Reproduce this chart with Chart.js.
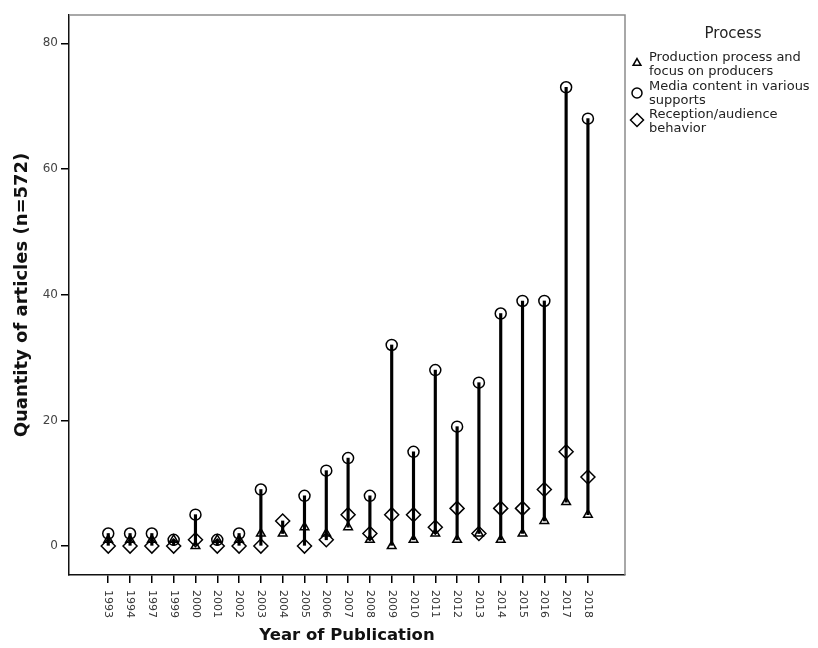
<!DOCTYPE html>
<html>
<head>
<meta charset="utf-8">
<script src="https://cdn.jsdelivr.net/npm/chart.js@4/dist/chart.umd.min.js"></script>
<style>
html,body{margin:0;padding:0;background:#fff;}
#wrap{width:818px;height:648px;}
</style>
</head>
<body>
<div id="wrap"><canvas id="c" width="818" height="648"></canvas></div>
<script>
const years = ['1993','1994','1997','1999','2000','2001','2002','2003','2004','2005','2006','2007','2008','2009','2010','2011','2012','2013','2014','2015','2016','2017','2018'];
const production = [1,1,1,1,0,1,1,2,2,3,2,3,1,0,1,2,1,2,1,2,4,7,5];
const media      = [2,2,2,1,5,1,2,9,null,8,12,14,8,32,15,28,19,26,37,39,39,73,68];
const reception  = [0,0,0,0,1,0,0,0,4,0,1,5,2,5,5,3,6,2,6,6,9,15,11];
const yTicks = [0,20,40,60,80];
const seriesNames = [['Production process and','focus on producers'],['Media content in various','supports'],['Reception/audience','behavior']];
const legendTitle = 'Process';
const xTitle = 'Year of Publication';
const yTitle = 'Quantity of articles (n=572)';

const pts = arr => arr.map((v,i)=> v===null ? null : {x:i, y:v}).filter(p=>p);
const ranges = years.map((y,i)=>{
  const vals=[production[i],media[i],reception[i]].filter(v=>v!==null);
  return {x:i, y:[Math.min(...vals), Math.max(...vals)]};
});

const styles = [
  {pointStyle:'triangle', radius:5, legendRadius:4.5},
  {pointStyle:'circle', radius:5.5, legendRadius:5},
  {pointStyle:'rectRot', radius:7, legendRadius:6.5}
];

const FONT = "'DejaVu Sans', sans-serif";

const framePlugin = {
  id:'frame',
  beforeDatasetsDraw(chart){
    const {ctx, chartArea:a} = chart;
    ctx.save();
    ctx.strokeStyle='#8c8c8c';
    ctx.lineWidth=1.5;
    ctx.beginPath();
    ctx.moveTo(a.left, a.top); ctx.lineTo(a.right, a.top); ctx.lineTo(a.right, a.bottom);
    ctx.stroke();
    ctx.restore();
  },
  afterDraw(chart){
    const {ctx} = chart;
    const xs = chart.scales.x;
    ctx.save();
    ctx.fillStyle='#333';
    ctx.font = "11px " + FONT;
    ctx.textAlign='left';
    ctx.textBaseline='middle';
    years.forEach((lab,i)=>{
      const px = xs.getPixelForValue(i);
      ctx.save();
      ctx.translate(px, xs.top + 15);
      ctx.rotate(Math.PI/2);
      ctx.fillText(lab, 0, 0);
      ctx.restore();
    });
    // legend
    ctx.fillStyle='#222';
    ctx.font = "15px " + FONT;
    ctx.textAlign='center';
    ctx.fillText(legendTitle, 733, 34);
    ctx.font = "13px " + FONT;
    ctx.textAlign='left';
    const rowY = [58, 87, 115];
    const markY = [63, 93, 120];
    seriesNames.forEach((lines, k)=>{
      lines.forEach((t,j)=> ctx.fillText(t, 649, rowY[k] + j*14));
      ctx.strokeStyle='#000';
      ctx.fillStyle='rgba(0,0,0,0)';
      ctx.lineWidth=1.5;
      Chart.helpers.drawPoint(ctx, {pointStyle:styles[k].pointStyle, radius:styles[k].legendRadius, borderWidth:1.5, rotation:0}, 637, markY[k]);
      ctx.fillStyle='#222';
    });
    ctx.restore();
  }
};

const markerDs = (label, arr, k) => ({
  type:'scatter',
  label,
  data: pts(arr),
  pointStyle: styles[k].pointStyle,
  pointRadius: styles[k].radius,
  pointHoverRadius: styles[k].radius,
  pointBorderWidth: 1.5,
  pointBorderColor:'#000',
  pointBackgroundColor:'rgba(0,0,0,0)',
  showLine:false,
  order:1
});

new Chart(document.getElementById('c'), {
  type:'scatter',
  data:{
    datasets:[
      {type:'bar', label:'range', data: ranges, backgroundColor:'#000', borderWidth:0, barThickness:2.5, order:10},
      markerDs(seriesNames[0].join(' '), production, 0),
      markerDs(seriesNames[1].join(' '), media, 1),
      markerDs(seriesNames[2].join(' '), reception, 2)
    ]
  },
  options:{
    responsive:false,
    animation:false,
    layout:{padding:{top:15, right:193, bottom:0, left:0}},
    plugins:{legend:{display:false}, tooltip:{enabled:false}},
    scales:{
      x:{
        type:'linear', min:-1.8, max:23.7, offset:false,
        afterBuildTicks(s){ s.ticks = years.map((y,i)=>({value:i})); },
        afterFit(s){ s.height = 73; },
        ticks:{display:false},
        grid:{offset:false, drawOnChartArea:false, drawTicks:true, tickLength:8, color:'#000', lineWidth:1.5},
        border:{display:true, color:'#111', width:1.5},
        title:{display:true, text:xTitle, font:{family:FONT, size:16.5, weight:'bold'}, color:'#111', padding:{top:0,bottom:2}}
      },
      y:{
        type:'linear', min:-4.6, max:84.5,
        afterBuildTicks(s){ s.ticks = yTicks.map(v=>({value:v})); },
        afterFit(s){ s.width = 69; },
        ticks:{color:'#444', font:{family:FONT, size:12}, padding:3},
        grid:{drawOnChartArea:false, drawTicks:true, tickLength:8, color:'#000', lineWidth:1.5},
        border:{display:true, color:'#111', width:1.5},
        title:{display:true, text:yTitle, font:{family:FONT, size:18, weight:'bold'}, color:'#111', padding:{top:12,bottom:0}}
      }
    }
  },
  plugins:[framePlugin]
});
</script>
</body>
</html>
